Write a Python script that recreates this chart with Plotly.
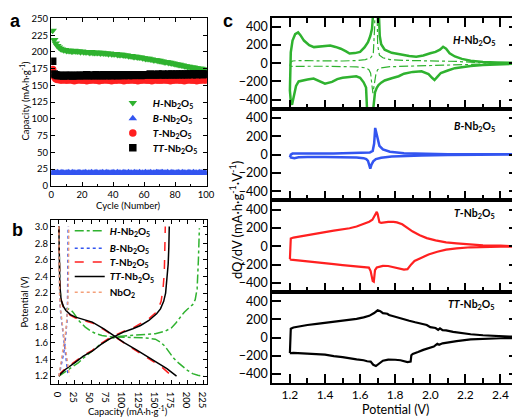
import plotly.graph_objects as go

W, H = 520, 417
def px(x): return x / W
def py(y): return 1 - y / H

FONT = "Lato"

# ---------------- panel a data ----------------
cycles = list(range(1, 101))
cap_H = [232, 218, 213, 209, 207, 205, 204, 203, 203, 202,
         202, 202, 201, 201, 202, 201, 201, 201, 200, 201,
         200, 200, 200, 200, 199, 200, 199, 199, 199, 199,
         199, 198, 199, 198, 198, 198, 197, 198, 197, 197,
         197, 197, 196, 196, 196, 196, 195, 195, 195, 194,
         194, 194, 193, 193, 193, 192, 192, 192, 191, 191,
         190, 190, 190, 189, 189, 188, 188, 188, 187, 187,
         186, 186, 185, 185, 185, 184, 184, 183, 183, 182,
         182, 181, 181, 180, 180, 179, 179, 178, 178, 177,
         177, 177, 176, 176, 175, 175, 175, 174, 174, 173]
cap_B = [20, 19, 19, 20, 19, 19, 20, 19, 19, 19,
         20, 19, 19, 20, 19, 19, 19, 20, 19, 19,
         19, 20, 19, 19, 19, 20, 19, 19, 20, 19,
         19, 19, 20, 19, 19, 20, 19, 19, 19, 20,
         19, 19, 20, 19, 19, 19, 20, 19, 19, 20,
         19, 19, 19, 20, 19, 19, 20, 19, 19, 19,
         20, 19, 19, 20, 19, 19, 19, 20, 20, 19,
         20, 20, 19, 19, 20, 19, 19, 20, 19, 19,
         19, 20, 19, 19, 20, 19, 19, 19, 20, 19,
         19, 20, 19, 19, 19, 20, 19, 19, 20, 19]
cap_T = [174, 163, 160, 159, 159, 158, 158, 159, 158, 158,
         158, 159, 158, 158, 157, 158, 158, 159, 158, 158,
         158, 158, 157, 158, 158, 158, 159, 158, 158, 158,
         157, 158, 158, 158, 159, 158, 158, 158, 157, 158,
         158, 158, 158, 159, 158, 158, 157, 158, 158, 158,
         158, 159, 158, 158, 158, 157, 158, 158, 158, 159,
         158, 158, 158, 158, 157, 158, 159, 158, 158, 158,
         158, 158, 159, 158, 158, 158, 157, 158, 158, 158,
         159, 158, 158, 158, 158, 157, 158, 158, 159, 158,
         158, 158, 158, 157, 158, 158, 158, 159, 158, 158]
cap_TT = [186, 167, 166, 165, 165, 165, 165, 164, 165, 165,
          165, 165, 165, 164, 165, 165, 165, 165, 165, 165,
          165, 165, 166, 165, 165, 165, 165, 165, 166, 165,
          165, 165, 165, 166, 165, 165, 165, 166, 165, 165,
          166, 165, 165, 166, 165, 166, 165, 166, 166, 165,
          166, 166, 165, 166, 166, 166, 166, 165, 166, 166,
          166, 166, 166, 167, 166, 166, 166, 166, 167, 166,
          166, 167, 166, 166, 166, 167, 166, 167, 166, 166,
          167, 166, 167, 166, 167, 166, 167, 166, 167, 167,
          166, 167, 167, 166, 167, 167, 167, 166, 167, 167]

# ---------------- panel b data (capacity, potential) ----------------
H_dis_cap = [0, 0.5, 1.5, 3, 6, 10, 14, 18, 22, 26, 32, 41, 50, 58, 67, 80, 95, 115, 135, 150, 158, 165, 172, 178, 186, 193, 200, 208, 216, 225]
H_dis_v = [3.0, 2.6, 2.3, 2.12, 2.05, 2.02, 2.01, 2.0, 1.97, 1.92, 1.86, 1.79, 1.74, 1.71, 1.69, 1.675, 1.67, 1.665, 1.66, 1.645, 1.61, 1.56, 1.49, 1.42, 1.36, 1.31, 1.27, 1.23, 1.21, 1.2]
H_chg_cap = [0, 10, 20, 30, 40, 52, 64, 77, 90, 110, 130, 150, 165, 175, 182, 188, 195, 202, 208, 212, 215, 217, 218.5]
H_chg_v = [1.2, 1.25, 1.30, 1.36, 1.43, 1.51, 1.58, 1.64, 1.675, 1.69, 1.70, 1.71, 1.74, 1.78, 1.84, 1.90, 1.97, 2.02, 2.06, 2.12, 2.25, 2.6, 2.98]
B_dis_cap = [0, 0.3, 0.8, 1.5, 3, 5, 7, 9, 11, 13, 14.5]
B_dis_v = [3.0, 2.6, 2.3, 2.1, 1.95, 1.82, 1.7, 1.57, 1.45, 1.3, 1.2]
B_chg_cap = [0, 3, 6, 9, 11, 12.5, 13.5, 14, 14.3, 14.5]
B_chg_v = [1.2, 1.3, 1.42, 1.55, 1.68, 1.85, 2.1, 2.4, 2.7, 3.0]
T_dis_cap = [0, 0.5, 1.5, 3.5, 7, 11, 18, 26, 38, 52, 70, 85, 100, 115, 130, 145, 160, 176]
T_dis_v = [3.0, 2.6, 2.3, 2.12, 2.03, 1.98, 1.93, 1.90, 1.87, 1.84, 1.76, 1.68, 1.60, 1.53, 1.46, 1.39, 1.31, 1.2]
T_chg_cap = [0, 3, 10, 18, 26, 38, 52, 65, 77, 90, 102, 115, 127, 140, 150, 155, 159, 162, 164, 165, 165.5]
T_chg_v = [1.2, 1.24, 1.29, 1.33, 1.38, 1.45, 1.51, 1.59, 1.65, 1.70, 1.745, 1.78, 1.83, 1.89, 1.96, 2.02, 2.1, 2.25, 2.45, 2.7, 3.0]
TT_dis_cap = [0, 0.5, 1.5, 3.5, 7, 11, 18, 26, 38, 52, 70, 85, 102, 120, 135, 152, 168, 183]
TT_dis_v = [3.0, 2.6, 2.3, 2.12, 2.04, 1.99, 1.94, 1.91, 1.88, 1.85, 1.77, 1.69, 1.60, 1.52, 1.45, 1.37, 1.29, 1.2]
TT_chg_cap = [0, 3, 10, 18, 26, 38, 52, 65, 77, 90, 102, 115, 127, 140, 152, 158, 163, 166, 168, 170, 171, 171.7]
TT_chg_v = [1.2, 1.23, 1.28, 1.32, 1.37, 1.44, 1.50, 1.58, 1.64, 1.69, 1.735, 1.77, 1.81, 1.87, 1.95, 2.01, 2.1, 2.2, 2.35, 2.55, 2.75, 3.0]
Nb_dis_cap = [0, 0.3, 1, 2, 4, 7, 10, 13, 15, 16.5]
Nb_dis_v = [3.0, 2.5, 2.2, 2.05, 1.9, 1.72, 1.55, 1.38, 1.27, 1.2]
Nb_chg_cap = [0, 2, 5, 8, 11, 13, 14.5, 15, 15.3, 15.5]
Nb_chg_v = [1.2, 1.3, 1.45, 1.6, 1.75, 1.95, 2.2, 2.5, 2.75, 3.0]

# ---------------- panel c data (potential, dQ/dV) ----------------
Hc_up_v = [1.200, 1.205, 1.215, 1.23, 1.247, 1.26, 1.28, 1.31, 1.337, 1.37, 1.40, 1.43, 1.46, 1.49, 1.52, 1.54, 1.57, 1.60, 1.625, 1.645, 1.658, 1.668, 1.676, 1.682, 1.692, 1.700, 1.706, 1.712, 1.72, 1.74, 1.78, 1.83, 1.88, 1.92, 1.96, 2.00, 2.03, 2.055, 2.073, 2.09, 2.11, 2.14, 2.18, 2.23, 2.30, 2.38, 2.45, 2.50]
Hc_up_q = [-300, 120, 250, 320, 340, 310, 250, 200, 178, 185, 196, 195, 180, 160, 130, 107, 112, 125, 175, 232, 300, 380, 600, 1500, 1500, 900, 500, 300, 210, 150, 115, 95, 80, 72, 85, 110, 125, 150, 182, 160, 110, 75, 48, 28, 15, 9, 6, 5]
Hc_lo_v = [2.50, 2.40, 2.30, 2.23, 2.18, 2.14, 2.10, 2.06, 2.04, 2.024, 2.01, 1.99, 1.95, 1.90, 1.85, 1.82, 1.78, 1.74, 1.72, 1.705, 1.695, 1.685, 1.675, 1.66, 1.65, 1.644, 1.638, 1.634, 1.62, 1.60, 1.578, 1.54, 1.50, 1.47, 1.44, 1.40, 1.37, 1.335, 1.30, 1.27, 1.25, 1.235, 1.222, 1.212, 1.205, 1.2]
Hc_lo_q = [-4, -8, -18, -30, -42, -54, -80, -107, -150, -185, -160, -120, -89, -95, -115, -143, -165, -190, -214, -240, -270, -320, -500, -1500, -1500, -700, -350, -268, -210, -160, -143, -150, -160, -175, -205, -225, -200, -168, -180, -195, -200, -250, -380, -457, -420, -300]
Hd_up_v = [1.2, 1.205, 1.215, 1.25, 1.3, 1.4, 1.5, 1.58, 1.63, 1.66, 1.675, 1.683, 1.69, 1.695, 1.70, 1.71, 1.73, 1.77, 1.85, 1.95, 2.05, 2.15, 2.25, 2.35, 2.5]
Hd_up_q = [-30, 10, 25, 30, 28, 25, 25, 30, 40, 60, 100, 400, 1500, 800, 200, 90, 60, 40, 32, 30, 28, 20, 10, 6, 4]
Hd_lo_v = [2.5, 2.35, 2.25, 2.15, 2.05, 1.95, 1.85, 1.77, 1.72, 1.70, 1.69, 1.68, 1.673, 1.668, 1.66, 1.65, 1.63, 1.58, 1.5, 1.4, 1.3, 1.25, 1.215, 1.205, 1.2]
Hd_lo_q = [-3, -6, -12, -20, -28, -30, -32, -38, -50, -70, -120, -250, -330, -250, -110, -70, -50, -40, -35, -33, -33, -35, -40, -35, -30]
Bc_up_v = [1.2, 1.205, 1.215, 1.25, 1.35, 1.45, 1.55, 1.62, 1.655, 1.672, 1.680, 1.686, 1.692, 1.70, 1.71, 1.73, 1.77, 1.85, 1.95, 2.1, 2.3, 2.5]
Bc_up_q = [-30, 0, 10, 12, 10, 10, 12, 15, 22, 40, 120, 290, 240, 150, 95, 55, 30, 15, 8, 4, 2, 2]
Bc_lo_v = [2.5, 2.3, 2.1, 1.95, 1.85, 1.78, 1.72, 1.69, 1.675, 1.665, 1.658, 1.652, 1.645, 1.635, 1.62, 1.58, 1.5, 1.4, 1.3, 1.25, 1.225, 1.21, 1.2]
Bc_lo_q = [-2, -3, -6, -10, -15, -22, -35, -50, -75, -110, -154, -120, -70, -50, -40, -32, -28, -28, -28, -30, -40, -35, -30]
Tc_up_v = [1.2, 1.201, 1.205, 1.22, 1.26, 1.30, 1.353, 1.40, 1.45, 1.50, 1.54, 1.58, 1.62, 1.652, 1.67, 1.68, 1.688, 1.695, 1.70, 1.705, 1.71, 1.72, 1.74, 1.76, 1.79, 1.81, 1.84, 1.87, 1.90, 1.94, 1.98, 2.03, 2.09, 2.15, 2.23, 2.3, 2.4, 2.5]
Tc_up_q = [-140, 0, 85, 95, 110, 125, 143, 155, 170, 182, 196, 215, 240, 268, 290, 330, 365, 375, 350, 290, 262, 255, 260, 266, 265, 260, 240, 196, 160, 120, 89, 65, 43, 32, 18, 10, 6, 4]
Tc_lo_v = [2.5, 2.4, 2.3, 2.23, 2.15, 2.09, 2.04, 1.99, 1.95, 1.91, 1.89, 1.87, 1.85, 1.82, 1.79, 1.76, 1.73, 1.71, 1.695, 1.685, 1.678, 1.672, 1.667, 1.66, 1.65, 1.62, 1.58, 1.54, 1.50, 1.45, 1.40, 1.353, 1.30, 1.25, 1.22, 1.205, 1.2]
Tc_lo_q = [-3, -5, -8, -11, -22, -36, -60, -89, -125, -161, -200, -250, -255, -240, -225, -215, -214, -225, -232, -260, -386, -380, -339, -270, -232, -225, -220, -214, -205, -195, -185, -179, -170, -158, -150, -145, -140]
TTc_up_v = [1.2, 1.201, 1.205, 1.22, 1.26, 1.30, 1.353, 1.40, 1.45, 1.50, 1.54, 1.58, 1.62, 1.652, 1.68, 1.70, 1.715, 1.73, 1.755, 1.765, 1.79, 1.82, 1.85, 1.88, 1.914, 1.95, 1.98, 2.0, 2.03, 2.045, 2.055, 2.07, 2.09, 2.13, 2.18, 2.23, 2.30, 2.38, 2.45, 2.5]
TTc_up_q = [-170, 20, 96, 110, 125, 138, 150, 160, 172, 186, 195, 205, 222, 239, 270, 300, 290, 268, 262, 248, 235, 221, 205, 185, 168, 150, 138, 114, 105, 85, 100, 80, 79, 62, 48, 36, 25, 14, 10, 8]
TTc_lo_v = [2.5, 2.4, 2.3, 2.23, 2.15, 2.07, 2.05, 2.04, 2.02, 1.99, 1.96, 1.93, 1.90, 1.892, 1.888, 1.87, 1.85, 1.83, 1.80, 1.76, 1.73, 1.71, 1.69, 1.675, 1.66, 1.64, 1.62, 1.58, 1.54, 1.50, 1.45, 1.40, 1.35, 1.30, 1.25, 1.22, 1.205, 1.2]
TTc_lo_q = [-5, -8, -13, -21, -40, -64, -80, -70, -100, -115, -136, -160, -180, -195, -265, -271, -258, -250, -245, -243, -255, -290, -314, -300, -265, -261, -250, -240, -225, -215, -205, -189, -182, -175, -172, -170, -172, -171]

GREEN = "#2fb22f"
BLUE = "#3355f0"
RED = "#ff2020"
BLACK = "#000000"
ORANGE = "#f4a07a"

def lbl(a, rest="-Nb<sub>2</sub>O<sub>5</sub>"):
    return "<b><i>" + a + "</i>" + rest + "</b>"

fig = go.Figure()

# panel a traces
series_a = [(cap_H, GREEN, "triangle-down", "H"), (cap_B, BLUE, "triangle-up", "B"),
            (cap_T, RED, "circle", "T"), (cap_TT, BLACK, "square", "TT")]
for i, (vals, col, sym, nm) in enumerate(series_a):
    fig.add_trace(go.Scatter(x=cycles, y=vals, mode="markers", xaxis="x", yaxis="y",
                             marker=dict(symbol=sym, size=7.5, color=col, line=dict(width=0)),
                             name=lbl(nm), legend="legend" if i == 0 else "legend%d" % (i + 1)))

# panel b traces
def join(a, b):
    return a + [None] + b
series_b = [(join(H_dis_cap, H_chg_cap), join(H_dis_v, H_chg_v), GREEN, "dashdot", lbl("H")),
            (join(B_dis_cap, B_chg_cap), join(B_dis_v, B_chg_v), BLUE, "dot", lbl("B")),
            (join(T_dis_cap, T_chg_cap), join(T_dis_v, T_chg_v), RED, "dash", lbl("T")),
            (join(TT_dis_cap, TT_chg_cap), join(TT_dis_v, TT_chg_v), BLACK, "solid", lbl("TT")),
            (join(Nb_dis_cap, Nb_chg_cap), join(Nb_dis_v, Nb_chg_v), ORANGE, "dot", "<b>NbO<sub>2</sub></b>")]
for i, (xx, yy, col, dash, nm) in enumerate(series_b):
    fig.add_trace(go.Scatter(x=xx, y=yy, mode="lines", xaxis="x2", yaxis="y2",
                             line=dict(color=col, dash=dash, width=1.5),
                             name=nm, legend="legend%d" % (i + 5)))

# panel c traces
c_series = [
    (Hc_up_v + Hc_lo_v, Hc_up_q + Hc_lo_q, GREEN, "solid", 2.5, "x3", "y3"),
    (Hd_up_v + Hd_lo_v, Hd_up_q + Hd_lo_q, GREEN, "dashdot", 1.2, "x3", "y3"),
    (Bc_up_v + Bc_lo_v, Bc_up_q + Bc_lo_q, BLUE, "solid", 2.5, "x4", "y4"),
    (Tc_up_v + Tc_lo_v, Tc_up_q + Tc_lo_q, RED, "solid", 2.2, "x5", "y5"),
    (TTc_up_v + TTc_lo_v, TTc_up_q + TTc_lo_q, BLACK, "solid", 2.2, "x6", "y6"),
]
for xx, yy, col, dash, w, xa, ya in c_series:
    fig.add_trace(go.Scatter(x=xx, y=yy, mode="lines", xaxis=xa, yaxis=ya,
                             line=dict(color=col, dash=dash, width=w), showlegend=False))

small = dict(family=FONT, size=9.5, color="black")
big = dict(family=FONT, size=12.5, color="black")
bigx = dict(family=FONT, size=12, color="black")
axbase = dict(showline=True, linecolor="black", ticks="inside", showgrid=False,
              zeroline=False, tickcolor="black")

layout = dict(
    width=W, height=H, margin=dict(l=0, r=0, t=0, b=0),
    paper_bgcolor="white", plot_bgcolor="white", showlegend=True,
    xaxis=dict(axbase, domain=[px(41), px(200)], anchor="y", range=[0, 100.5], dtick=20,
               ticklen=4, linewidth=1.3, mirror="ticks", tickfont=small,
               minor=dict(dtick=10, ticklen=2, ticks="inside", tickcolor="black")),
    yaxis=dict(axbase, domain=[py(177), py(5)], anchor="x", range=[0, 251], dtick=25,
               ticklen=4, linewidth=1.3, mirror="ticks", tickfont=small),
    xaxis2=dict(axbase, domain=[px(41), px(200)], anchor="y2", range=[-12, 230], dtick=25,
                ticklen=4, linewidth=1.3, mirror="ticks", tickfont=small,
                minor=dict(dtick=12.5, ticklen=2, ticks="inside", tickcolor="black")),
    yaxis2=dict(axbase, domain=[py(380), py(212)], anchor="x2", range=[1.107, 3.08], dtick=0.2,
                tick0=1.2, tickformat=".1f", ticklen=4, linewidth=1.3, mirror="ticks", tickfont=small,
                minor=dict(dtick=0.1, ticklen=2, ticks="inside", tickcolor="black")),
)
c_dom = [(5, 98), (98, 192), (192, 286), (286, 379)]
for k, (t, b) in enumerate(c_dom):
    n = k + 3
    layout["xaxis%d" % n] = dict(axbase, domain=[px(267), px(518)], anchor="y%d" % n,
                                 range=[1.1, 2.5], dtick=0.2, tick0=1.2, tickformat=".1f",
                                 ticklen=9, tickwidth=1.5, linewidth=2,
                                 mirror="ticks" if k == 0 else True,
                                 showticklabels=(k == 3), tickfont=bigx,
                                 minor=dict(dtick=0.1, ticklen=5, tickwidth=1.5, ticks="inside", tickcolor="black"))
    layout["yaxis%d" % n] = dict(axbase, domain=[py(b), py(t)], anchor="x%d" % n,
                                 range=[-500, 500], tickvals=[-400, -200, 0, 200, 400],
                                 ticklen=9, tickwidth=1.5, linewidth=2, mirror="ticks", tickfont=big)

# legends
leg_font = dict(family=FONT, size=10, color="black")
a_leg_y = [92, 108, 123, 138]
for i, yy in enumerate(a_leg_y):
    key = "legend" if i == 0 else "legend%d" % (i + 1)
    layout[key] = dict(x=px(104), y=py(yy), xanchor="left", yanchor="middle",
                       bgcolor="rgba(0,0,0,0)", font=leg_font, borderwidth=0)
b_leg_y = [223, 241, 255, 270, 286]
for i, yy in enumerate(b_leg_y):
    layout["legend%d" % (i + 5)] = dict(x=px(60), y=py(yy), xanchor="left", yanchor="middle",
                                        bgcolor="rgba(0,0,0,0)", font=leg_font, borderwidth=0)

fig.update_layout(**layout)

ann = []
def add_text(x, y, text, size, angle=0, xanchor="center"):
    ann.append(dict(x=px(x), y=py(y), xref="paper", yref="paper", text=text, showarrow=False,
                    textangle=angle, xanchor=xanchor, yanchor="middle",
                    font=dict(family=FONT, size=size, color="black")))

add_text(120, 197, "Cycle (Number)", 9.5)
add_text(14, 90, "Capacity (mA·h·g<sup>-1</sup>)", 9.5, angle=-90)
add_text(120, 407, "Capacity (mA·h·g<sup>-1</sup>)", 9.5)
add_text(14, 296, "Potential (V)", 9.5, angle=-90)
add_text(393, 406, "Potential (V)", 12.5)
add_text(230, 212, "dQ/dV (mA·h·g<sup>-1</sup>·V<sup>-1</sup>)", 13, angle=-90)
for yy, nm in [(29, "H"), (117, "B"), (206, "T"), (299, "TT")]:
    add_text(497, yy, lbl(nm), 10.5, xanchor="right")
for x, y, t in [(5, 8, "a"), (7, 222, "b"), (222, 8, "c")]:
    ann.append(dict(x=px(x), y=py(y), xref="paper", yref="paper", text="<b>" + t + "</b>",
                    showarrow=False, xanchor="center", yanchor="middle",
                    font=dict(family="Liberation Sans", size=18, color="black")))
fig.update_layout(annotations=ann)

fig.write_html("out.html")
